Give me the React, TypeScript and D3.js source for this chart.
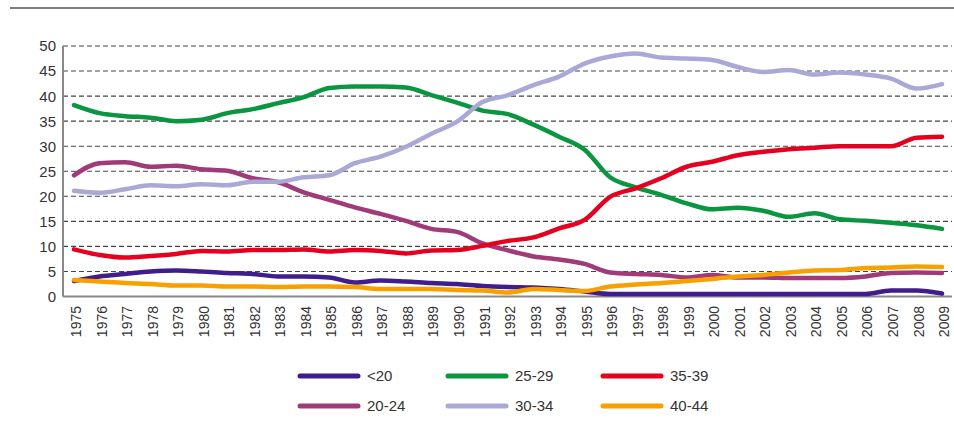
import React from "react";
import * as d3 from "d3";

const years = d3.range(1975, 2010).map(String);

const under20 = [3.1,4.0,4.5,5.0,5.2,5.0,4.7,4.5,4.0,4.0,3.8,2.8,3.2,3.0,2.7,2.5,2.1,1.9,1.8,1.5,1.0,0.5,0.5,0.5,0.5,0.5,0.5,0.5,0.5,0.5,0.5,0.5,1.2,1.2,0.6];
const age20_24 = [24.2,26.6,26.8,25.9,26.1,25.4,25.1,23.6,22.8,20.8,19.3,17.8,16.5,15.1,13.5,12.9,10.6,9.2,8.0,7.4,6.5,4.8,4.5,4.3,3.8,4.3,3.8,3.8,3.7,3.7,3.7,4.0,4.7,4.8,4.7];
const age25_29 = [38.2,36.6,36.0,35.7,35.0,35.3,36.6,37.4,38.6,39.8,41.6,41.9,41.9,41.7,40.2,38.7,37.1,36.4,34.3,31.9,29.3,23.8,21.8,20.3,18.6,17.4,17.7,17.1,15.9,16.6,15.4,15.1,14.7,14.2,13.5];
const age30_34 = [21.1,20.7,21.4,22.2,22.0,22.4,22.2,22.9,22.9,23.8,24.2,26.6,27.9,29.9,32.5,34.9,38.8,40.2,42.2,43.9,46.5,47.9,48.5,47.7,47.5,47.2,45.8,44.8,45.2,44.3,44.7,44.3,43.5,41.5,42.4];
const age35_39 = [9.4,8.3,7.8,8.1,8.5,9.1,9.0,9.3,9.3,9.4,9.0,9.3,9.1,8.6,9.2,9.3,10.1,11.1,11.8,13.6,15.3,19.9,21.6,23.6,25.9,26.9,28.2,28.9,29.4,29.7,30.0,30.0,30.0,31.7,31.9];
const age40_44 = [3.3,3.0,2.7,2.5,2.2,2.2,2.0,2.0,1.9,2.0,2.0,1.9,1.5,1.5,1.5,1.3,1.2,0.8,1.5,1.3,1.1,2.0,2.4,2.7,3.1,3.5,4.0,4.3,4.8,5.2,5.3,5.7,5.8,6.0,5.9];

const yTicks = [0, 5, 10, 15, 20, 25, 30, 35, 40, 45, 50];

const seriesNames = ["<20", "20-24", "25-29", "30-34", "35-39", "40-44"];
const seriesValues = [under20, age20_24, age25_29, age30_34, age35_39, age40_44];
const seriesColors = ["#3f1d8c", "#a03a78", "#0a9640", "#a9a8d6", "#e4001e", "#f7a000"];

const drawOrder = [0, 1, 2, 3, 4, 5];
const legendOrder = [
  [0, 2, 4],
  [1, 3, 5],
];

export default function App() {
  const W = 954, H = 439;
  const x = d3.scalePoint<string>().domain(years).range([74, 942]);
  const y = d3.scaleLinear().domain([0, 50]).range([296.5, 46]);
  const axisLeft = 63;
  const gridRight = 952;
  const font = "'Liberation Sans', Arial, sans-serif";

  const line = d3
    .line<number>()
    .x((_, i) => x(years[i]) as number)
    .y((d) => y(d))
    .curve(d3.curveMonotoneX);

  const legendCols = [300, 448, 603];
  const legendRows = [376, 406];

  return (
    <svg
      width={W}
      height={H}
      style={{ position: "absolute", left: 0, top: 0, background: "#fff" }}
      fontFamily={font}
    >
      <rect width={W} height={H} fill="#fff" />
      <line x1={10} x2={954} y1={8} y2={8} stroke="#555" strokeWidth={1.5} />

      {yTicks.filter((t) => t > 0).map((t) => (
        <line
          key={"g" + t}
          x1={axisLeft}
          x2={gridRight}
          y1={y(t)}
          y2={y(t)}
          stroke="#444"
          strokeWidth={1.1}
          strokeDasharray="5,3"
        />
      ))}

      <line x1={axisLeft} x2={axisLeft} y1={y(50)} y2={y(0)} stroke="#888" strokeWidth={2} />
      <line x1={axisLeft} x2={gridRight} y1={y(0)} y2={y(0)} stroke="#888" strokeWidth={2} />

      {yTicks.map((t) => (
        <text
          key={"yt" + t}
          x={56}
          y={y(t)}
          dy="0.36em"
          textAnchor="end"
          fontSize={15}
          fill="#333"
        >
          {t}
        </text>
      ))}

      {years.map((yr) => (
        <text
          key={"xt" + yr}
          transform={`translate(${(x(yr) as number) + 2},306) rotate(-90)`}
          dy="0.36em"
          textAnchor="end"
          fontSize={14}
          fill="#333"
        >
          {yr}
        </text>
      ))}

      {drawOrder.map((si) => (
        <path
          key={"s" + si}
          d={line(seriesValues[si]) || ""}
          fill="none"
          stroke={seriesColors[si]}
          strokeWidth={4.5}
          strokeLinejoin="round"
          strokeLinecap="round"
        />
      ))}

      {legendOrder.map((row, ri) =>
        row.map((si, ci) => (
          <g key={"lg" + si} transform={`translate(${legendCols[ci]},${legendRows[ri]})`}>
            <line x1={0} x2={58} y1={0} y2={0} stroke={seriesColors[si]} strokeWidth={5} strokeLinecap="round" />
            <text x={67} y={0} dy="0.36em" fontSize={15} fill="#333">
              {seriesNames[si]}
            </text>
          </g>
        ))
      )}
    </svg>
  );
}
